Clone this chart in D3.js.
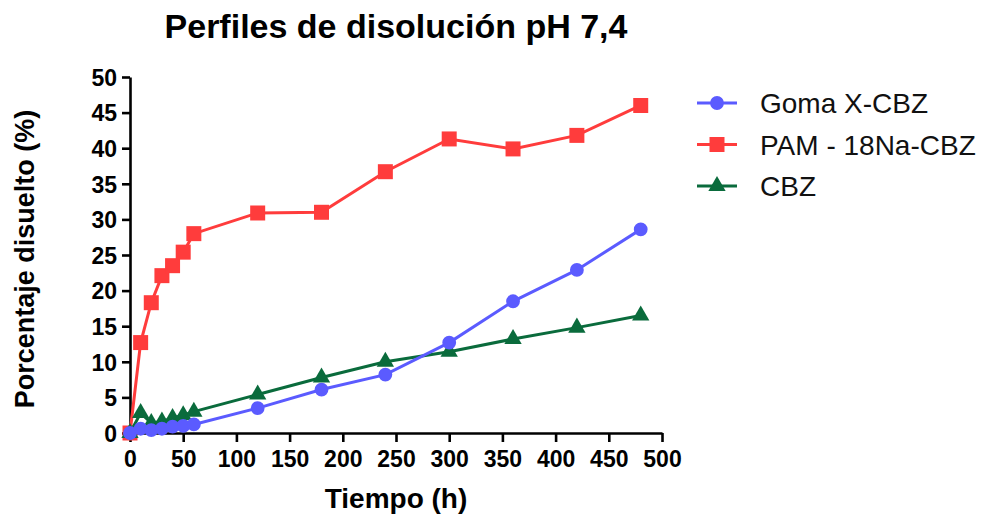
<!DOCTYPE html>
<html>
<head>
<meta charset="utf-8">
<script src="https://cdn.jsdelivr.net/npm/d3@7"></script>
<style>
  body { margin: 0; background: #fff; }
  text { font-family: "Liberation Sans", Arial, sans-serif; }
</style>
</head>
<body>
<div id="chart"></div>
<script>
    // values
    const tiempo = [0, 10, 20, 30, 40, 50, 60, 120, 180, 240, 300, 360, 420, 480];
    const goma = [0, 0.6, 0.4, 0.6, 0.9, 1.0, 1.2, 3.5, 6.1, 8.2, 12.7, 18.5, 22.9, 28.6];
    const pam = [0, 12.7, 18.3, 22.1, 23.5, 25.4, 28.0, 30.9, 31.0, 36.7, 41.3, 39.9, 41.8, 46.0];
    const cbz = [0, 2.8, 1.4, 1.6, 2.1, 2.5, 3.0, 5.4, 7.8, 10.0, 11.4, 13.2, 14.8, 16.5];
    const series_names = ["Goma X-CBZ", "PAM - 18Na-CBZ", "CBZ"];
    const x_ticks = [0, 50, 100, 150, 200, 250, 300, 350, 400, 450, 500];
    const y_ticks = [0, 5, 10, 15, 20, 25, 30, 35, 40, 45, 50];

    const width = 989, height = 517;
    const margin = {top: 77, right: 327, bottom: 84, left: 130};
    const w = width - margin.left - margin.right,
        h = height - margin.top - margin.bottom;

    const svg = d3.select("#chart")
        .append("svg")
        .attr("width", width)
        .attr("height", height);
    const g = svg.append("g")
        .attr("transform", "translate(" + margin.left + "," + margin.top + ")");

    const x = d3.scaleLinear().domain([0, 500]).range([0, w]);
    const y = d3.scaleLinear().domain([0, 50]).range([h, 0]);

    const xAxis = g.append("g")
        .attr("transform", "translate(0," + h + ")")
        .call(d3.axisBottom(x).tickValues(x_ticks).tickSize(9).tickPadding(8).tickSizeOuter(0));
    const yAxis = g.append("g")
        .call(d3.axisLeft(y).tickValues(y_ticks).tickSize(8).tickPadding(5).tickSizeOuter(0));

    [xAxis, yAxis].forEach(a => {
        a.select(".domain").attr("stroke", "#000").attr("stroke-width", 2.6);
        a.selectAll(".tick line").attr("stroke", "#000").attr("stroke-width", 2.6);
        a.selectAll(".tick text")
            .attr("fill", "#000")
            .style("font-family", "'Liberation Sans', Arial, sans-serif")
            .style("font-size", "23px")
            .style("font-weight", "bold");
    });
    xAxis.selectAll(".tick text").attr("dy", "0.75em");
    yAxis.selectAll(".tick text").attr("dy", "0.36em");

    const data = [
        {name: series_names[1], values: pam, color: "#ff3c3c", shape: d3.symbolSquare, size: 225},
        {name: series_names[2], values: cbz, color: "#0a6b3c", shape: d3.symbolTriangle, size: 130},
        {name: series_names[0], values: goma, color: "#5b5bff", shape: d3.symbolCircle, size: 150}
    ];

    const to_line = d3.line()
        .x((d, i) => x(tiempo[i]))
        .y(d => y(d));

    const series = g.selectAll("mySeries")
        .data(data)
        .join("g");

    series.append("path")
        .attr("d", d => to_line(d.values))
        .attr("fill", "none")
        .attr("stroke", d => d.color)
        .attr("stroke-width", 3);

    series.each(function (s) {
        d3.select(this).selectAll("path.pt")
            .data(s.values)
            .join("path")
            .attr("class", "pt")
            .attr("d", d3.symbol().type(s.shape).size(s.size))
            .attr("transform", (d, i) => "translate(" + x(tiempo[i]) + "," + y(d) + ")")
            .attr("fill", s.color);
    });

    // legend
    const legend_order = [data[2], data[0], data[1]];
    const legend = svg.selectAll("myLegend")
        .data(legend_order)
        .join("g")
        .attr("transform", (d, i) => "translate(697," + (103 + i * 41.5) + ")");
    legend.append("line")
        .attr("x1", 0).attr("x2", 40)
        .attr("stroke", d => d.color)
        .attr("stroke-width", 3);
    legend.append("path")
        .attr("d", d => d3.symbol().type(d.shape).size(d.size)())
        .attr("transform", "translate(20,0)")
        .attr("fill", d => d.color);
    legend.append("text")
        .attr("x", 63)
        .attr("dy", "0.36em")
        .text(d => d.name)
        .style("font-size", "28px")
        .attr("fill", "#111");

    // titles
    svg.append("text")
        .attr("x", margin.left + w / 2)
        .attr("y", 38)
        .attr("text-anchor", "middle")
        .style("font-size", "34px")
        .style("font-weight", "bold")
        .text("Perfiles de disolución pH 7,4");

    svg.append("text")
        .attr("x", margin.left + w / 2)
        .attr("y", 508)
        .attr("text-anchor", "middle")
        .style("font-size", "28px")
        .style("font-weight", "bold")
        .text("Tiempo (h)");

    svg.append("text")
        .attr("transform", "translate(34," + (margin.top + h / 2 + 4) + ") rotate(-90)")
        .attr("text-anchor", "middle")
        .style("font-size", "27px")
        .style("font-weight", "bold")
        .text("Porcentaje disuelto (%)");
</script>
</body>
</html>
